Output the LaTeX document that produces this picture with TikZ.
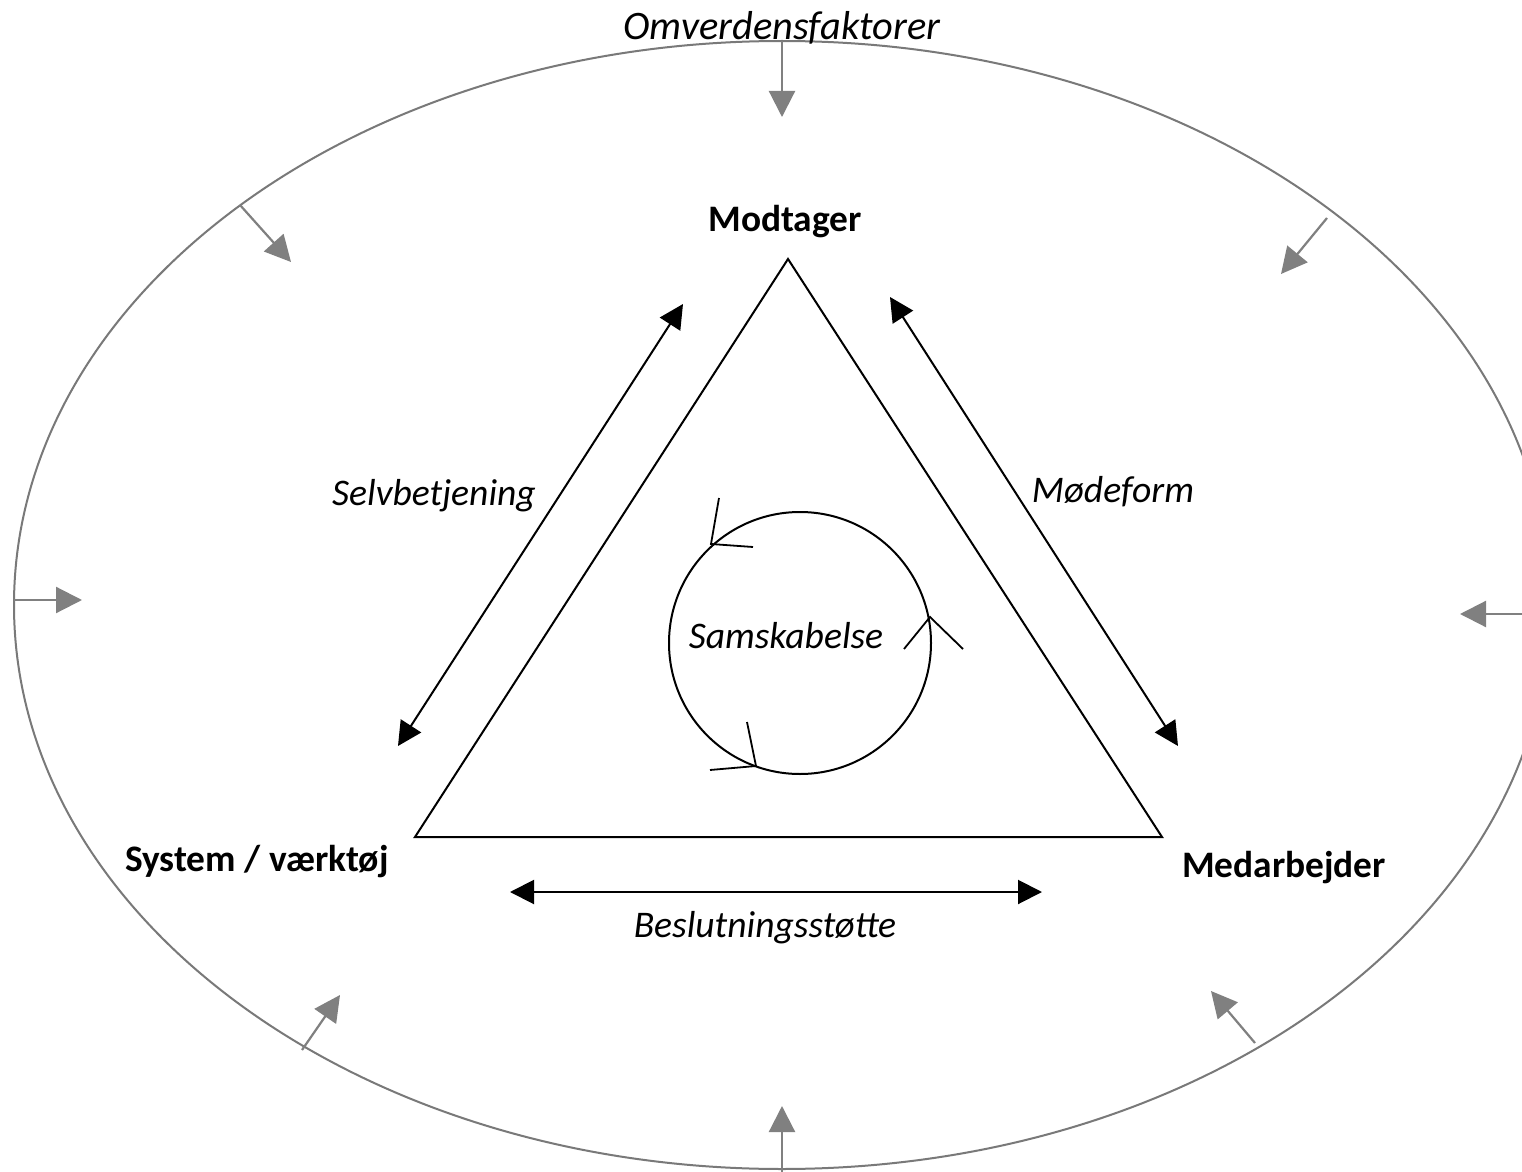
\documentclass[tikz,border=0pt]{standalone}
\usepackage{fontspec}
\setmainfont{Carlito}
\usetikzlibrary{arrows.meta}
\begin{document}
\begin{tikzpicture}[x=0.5pt,y=-0.5pt,
  outer/.style={draw=gray!95!black,line width=1pt},
  envarrow/.style={draw=gray,line width=1.1pt,-{Triangle[length=13pt,width=13pt]}},
  rel/.style={draw=black,line width=1pt,{Triangle[length=12pt,width=12pt]}-{Triangle[length=12pt,width=12pt]}},
  boldlbl/.style={font=\fontsize{18.7}{22}\selectfont\bfseries},
  itlbl/.style={font=\fontsize{18.8}{22}\selectfont\itshape},
  chev/.style={draw=black,line width=0.9pt}]
\useasboundingbox (0,0) rectangle (1522,1172);
\clip (0,0) rectangle (1522,1172);
\fill[white] (0,0) rectangle (1522,1172);
% outer ellipse
\coordinate (ec) at (782,605);
\draw[outer] (ec) ellipse [x radius=768, y radius=564];
% environment arrows
\coordinate (t0) at (782,41);   \coordinate (t1) at (782,117);
\coordinate (tl0) at (240,205); \coordinate (tl1) at (291,262);
\coordinate (tr0) at (1327,218);\coordinate (tr1) at (1281,274);
\coordinate (l0) at (14,600);   \coordinate (l1) at (82,600);
\coordinate (r0) at (1522,614); \coordinate (r1) at (1460,614);
\coordinate (bl0) at (302,1050);\coordinate (bl1) at (340,995);
\coordinate (br0) at (1255,1043);\coordinate (br1) at (1211,991);
\coordinate (b0) at (782,1172); \coordinate (b1) at (782,1106);
\foreach \a in {t,tl,tr,l,r,bl,br,b} {\draw[envarrow] (\a0) -- (\a1);}
\node[font=\fontsize{20.2}{24}\selectfont\itshape] (omv) at (782,28) {Omverdensfaktorer};
% triangle
\coordinate (apex) at (788,259);
\coordinate (lft) at (415,837);
\coordinate (rgt) at (1162,837);
\draw[line width=1pt] (apex) -- (lft) -- (rgt) -- cycle;
% labels
\node[boldlbl] (mod) at (785,222) {Modtager};
\node[boldlbl] (sys) at (257,862) {System / værktøj};
\node[boldlbl] (med) at (1284,868) {Medarbejder};
\node[itlbl] (selv) at (434,496) {Selvbetjening};
\node[itlbl] (mode) at (1113,492) {Mødeform};
\node[itlbl] (besl) at (765,928) {Beslutningsstøtte};
% relation arrows
\coordinate (sa) at (398,746); \coordinate (sb) at (683,304);
\coordinate (ma) at (890,297); \coordinate (mb) at (1178,746);
\coordinate (ba) at (510,892); \coordinate (bb) at (1042,892);
\draw[rel] (sa) -- (sb);
\draw[rel] (ma) -- (mb);
\draw[rel] (ba) -- (bb);
% circle
\node[draw=black,line width=1pt,circle,minimum size=262pt/2,inner sep=0pt] (circ) at (800,643) {};
\node[itlbl] (sam) at (786,636) {Samskabelse};
% chevrons on circle
\coordinate (c1) at (711,544); \coordinate (c1a) at (719,498); \coordinate (c1b) at (753,547);
\coordinate (c2) at (930,617); \coordinate (c2a) at (904,649); \coordinate (c2b) at (963,649);
\coordinate (c3) at (756,766); \coordinate (c3a) at (747,722); \coordinate (c3b) at (710,770);
\draw[chev] (c1a) -- (c1) -- (c1b);
\draw[chev] (c2a) -- (c2) -- (c2b);
\draw[chev] (c3a) -- (c3) -- (c3b);
\end{tikzpicture}
\end{document}
